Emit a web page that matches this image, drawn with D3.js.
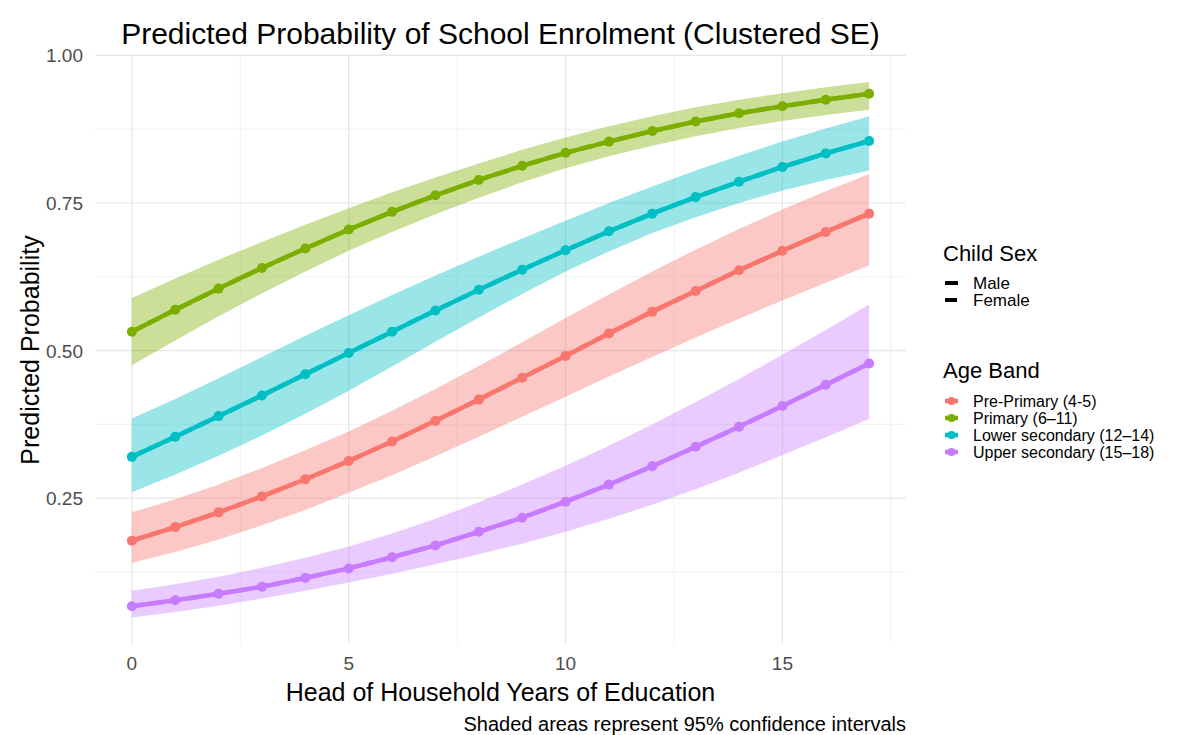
<!DOCTYPE html>
<html>
  <head>
    <meta charset="utf-8">
    <script src="https://d3js.org/d3.v7.min.js"></script>
    <title>Predicted Probability of School Enrolment</title>
    <style>
      body { margin: 0; background: #fff; }
      text { font-family: "Liberation Sans", Arial, Helvetica, sans-serif; }
    </style>
  </head>
  <body>

    <svg></svg>

    <script type="text/javascript">

      // head of household years of education
      var years = [0, 1, 2, 3, 4, 5, 6, 7, 8, 9, 10, 11, 12, 13, 14, 15, 16, 17];

      var ageBands = ["Pre-Primary (4-5)", "Primary (6\u201311)", "Lower secondary (12\u201314)", "Upper secondary (15\u201318)"];
      var sexes = ["Male", "Female"];

      // predicted probabilities (male and female lines coincide)
      var prePrimaryFit = [0.178, 0.201, 0.226, 0.253, 0.282, 0.313, 0.346, 0.381, 0.417, 0.454, 0.491, 0.529, 0.566, 0.601, 0.636, 0.669, 0.701, 0.732];
      var prePrimaryLow = [0.140, 0.159, 0.180, 0.204, 0.230, 0.259, 0.289, 0.321, 0.354, 0.388, 0.422, 0.456, 0.489, 0.522, 0.554, 0.585, 0.615, 0.644];
      var prePrimaryHigh = [0.226, 0.248, 0.273, 0.301, 0.331, 0.363, 0.398, 0.435, 0.474, 0.514, 0.555, 0.595, 0.634, 0.671, 0.706, 0.739, 0.770, 0.799];

      var primaryFit = [0.532, 0.569, 0.605, 0.640, 0.673, 0.705, 0.735, 0.763, 0.789, 0.813, 0.835, 0.854, 0.872, 0.888, 0.902, 0.914, 0.925, 0.935];
      var primaryLow = [0.475, 0.517, 0.558, 0.597, 0.634, 0.669, 0.701, 0.731, 0.759, 0.785, 0.809, 0.829, 0.847, 0.863, 0.877, 0.889, 0.899, 0.908];
      var primaryHigh = [0.589, 0.622, 0.654, 0.684, 0.713, 0.741, 0.768, 0.793, 0.817, 0.840, 0.861, 0.880, 0.897, 0.912, 0.925, 0.936, 0.946, 0.955];

      var lowerSecFit = [0.320, 0.354, 0.389, 0.424, 0.460, 0.496, 0.532, 0.568, 0.603, 0.637, 0.670, 0.702, 0.732, 0.760, 0.786, 0.811, 0.834, 0.855];
      var lowerSecLow = [0.260, 0.290, 0.322, 0.356, 0.393, 0.432, 0.473, 0.515, 0.556, 0.596, 0.634, 0.668, 0.699, 0.726, 0.750, 0.771, 0.789, 0.805];
      var lowerSecHigh = [0.385, 0.418, 0.453, 0.489, 0.525, 0.560, 0.594, 0.627, 0.659, 0.690, 0.720, 0.750, 0.778, 0.805, 0.830, 0.854, 0.876, 0.897];

      var upperSecFit = [0.067, 0.077, 0.088, 0.100, 0.115, 0.131, 0.150, 0.170, 0.193, 0.217, 0.244, 0.273, 0.304, 0.337, 0.371, 0.406, 0.442, 0.478];
      var upperSecLow = [0.048, 0.057, 0.068, 0.080, 0.093, 0.107, 0.122, 0.138, 0.155, 0.173, 0.193, 0.215, 0.239, 0.265, 0.293, 0.323, 0.353, 0.384];
      var upperSecHigh = [0.093, 0.104, 0.117, 0.132, 0.149, 0.168, 0.190, 0.215, 0.243, 0.273, 0.305, 0.339, 0.375, 0.413, 0.452, 0.493, 0.535, 0.578];

      var xTicks = [0, 5, 10, 15];
      var xMinor = [2.5, 7.5, 12.5, 17.5];
      var yTicks = [0.25, 0.50, 0.75, 1.00];
      var yMinor = [0.125, 0.375, 0.625, 0.875];

      var colors = ["#F8766D", "#7CAE00", "#00BFC4", "#C77CFF"];

      var bands = [
        {name: ageBands[0], fit: prePrimaryFit, low: prePrimaryLow, high: prePrimaryHigh},
        {name: ageBands[1], fit: primaryFit, low: primaryLow, high: primaryHigh},
        {name: ageBands[2], fit: lowerSecFit, low: lowerSecLow, high: lowerSecHigh},
        {name: ageBands[3], fit: upperSecFit, low: upperSecLow, high: upperSecHigh}
      ];

      var width = 1182, height = 735;

      var svg = d3.select("svg")
                  .attr("width", width)
                  .attr("height", height);

      var x = d3.scaleLinear().domain([-0.85, 17.85]).range([95, 906]);
      var y = d3.scaleLinear().domain([0.003, 0.999]).range([644, 56]);

      function label(g, px, py, txt, size, anchor, color) {
        return g.append("text")
          .attr("x", px)
          .attr("y", py)
          .attr("text-anchor", anchor)
          .attr("font-size", size)
          .attr("fill", color)
          .text(txt);
      }

      // grid
      var grid = svg.append("g");
      grid.selectAll(".xminor").data(xMinor).join("line")
        .attr("x1", d => x(d)).attr("x2", d => x(d))
        .attr("y1", y.range()[0]).attr("y2", y.range()[1])
        .attr("stroke", "#efefef").attr("stroke-width", 0.8);
      grid.selectAll(".yminor").data(yMinor).join("line")
        .attr("y1", d => y(d)).attr("y2", d => y(d))
        .attr("x1", x.range()[0]).attr("x2", x.range()[1])
        .attr("stroke", "#efefef").attr("stroke-width", 0.8);
      grid.selectAll(".xmajor").data(xTicks).join("line")
        .attr("x1", d => x(d)).attr("x2", d => x(d))
        .attr("y1", y.range()[0]).attr("y2", y.range()[1])
        .attr("stroke", "#e6e6e6").attr("stroke-width", 1.2);
      grid.selectAll(".ymajor").data(yTicks).join("line")
        .attr("y1", d => y(d)).attr("y2", d => y(d))
        .attr("x1", x.range()[0]).attr("x2", x.range()[1])
        .attr("stroke", "#e6e6e6").attr("stroke-width", 1.2);

      // ribbons
      var area = d3.area()
        .x((d, i) => x(years[i]))
        .y0(d => y(d[0]))
        .y1(d => y(d[1]));

      svg.append("g").selectAll("path")
        .data(bands)
        .join("path")
        .attr("d", b => area(b.low.map((v, i) => [v, b.high[i]])))
        .attr("fill", (b, i) => colors[i])
        .attr("fill-opacity", 0.4);

      // lines, one per sex (they sit on top of each other)
      var line = d3.line()
        .x((d, i) => x(years[i]))
        .y(d => y(d));

      var lines = svg.append("g");
      bands.forEach(function (b, i) {
        sexes.forEach(function (s) {
          lines.append("path")
            .attr("d", line(b.fit))
            .attr("fill", "none")
            .attr("stroke", colors[i])
            .attr("stroke-width", 4.5)
            .attr("stroke-dasharray", s == "Female" ? "12,6" : null);
        });
      });

      var pts = svg.append("g");
      bands.forEach(function (b, i) {
        pts.selectAll(".p" + i)
          .data(b.fit)
          .join("circle")
          .attr("cx", (d, j) => x(years[j]))
          .attr("cy", d => y(d))
          .attr("r", 5)
          .attr("fill", colors[i]);
      });

      // axes text
      var axes = svg.append("g");
      yTicks.forEach(function (t) {
        label(axes, 83, y(t) + 7, d3.format(".2f")(t), 19, "end", "#4d4d4d");
      });
      xTicks.forEach(function (t) {
        label(axes, x(t), 670, t, 19, "middle", "#4d4d4d");
      });

      label(svg, 500.5, 44, "Predicted Probability of School Enrolment (Clustered SE)", 30, "middle", "#000");
      label(svg, 500.5, 701, "Head of Household Years of Education", 25, "middle", "#000");
      svg.append("text")
        .attr("transform", "translate(39,350) rotate(-90)")
        .attr("text-anchor", "middle")
        .attr("font-size", 25)
        .text("Predicted Probability");
      label(svg, 906, 731, "Shaded areas represent 95% confidence intervals", 20, "end", "#000");

      // legends
      var leg = svg.append("g");
      label(leg, 943, 261, "Child Sex", 22, "start", "#000");
      sexes.forEach(function (s, i) {
        var ky = 283 + i * 17;
        leg.append("line")
          .attr("x1", 945).attr("x2", 958)
          .attr("y1", ky).attr("y2", ky)
          .attr("stroke", "#000").attr("stroke-width", 4)
          .attr("stroke-dasharray", i == 1 ? "12,6" : null);
        label(leg, 973, ky + 6, s, 17, "start", "#000");
      });

      label(leg, 943, 378, "Age Band", 22, "start", "#000");
      ageBands.forEach(function (a, i) {
        var ky = 401 + i * 17;
        leg.append("line")
          .attr("x1", 945).attr("x2", 958)
          .attr("y1", ky).attr("y2", ky)
          .attr("stroke", colors[i]).attr("stroke-width", 4.5);
        leg.append("circle")
          .attr("cx", 951.5).attr("cy", ky).attr("r", 4)
          .attr("fill", colors[i]);
        label(leg, 973, ky + 6, a, 16, "start", "#000");
      });

    </script>
  </body>
</html>
